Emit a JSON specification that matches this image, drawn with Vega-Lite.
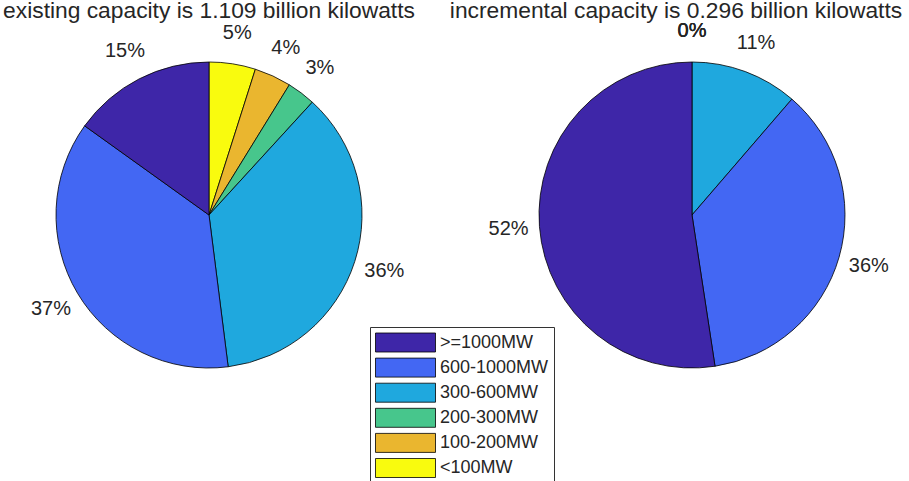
{
  "$schema": "https://vega.github.io/schema/vega-lite/v6.json",
  "padding": 0,
  "background": "white",
  "config": {"view": {"stroke": null}},
  "bounds": "flush",
  "spacing": 65,
  "datasets": {
    "d": [
      {"chart": "existing", "cat": "<100MW", "v": 0.049, "k": 1},
      {"chart": "existing", "cat": "100-200MW", "v": 0.039, "k": 2},
      {"chart": "existing", "cat": "200-300MW", "v": 0.030, "k": 3},
      {"chart": "existing", "cat": "300-600MW", "v": 0.362, "k": 4},
      {"chart": "existing", "cat": "600-1000MW", "v": 0.369, "k": 5},
      {"chart": "existing", "cat": ">=1000MW", "v": 0.151, "k": 6},
      {"chart": "incremental", "cat": "<100MW", "v": 0, "k": 1},
      {"chart": "incremental", "cat": "100-200MW", "v": 0, "k": 2},
      {"chart": "incremental", "cat": "200-300MW", "v": 0, "k": 3},
      {"chart": "incremental", "cat": "300-600MW", "v": 0.113, "k": 4},
      {"chart": "incremental", "cat": "600-1000MW", "v": 0.362, "k": 5},
      {"chart": "incremental", "cat": ">=1000MW", "v": 0.523, "k": 6}
    ]
  },
  "hconcat": [
    {
      "width": 418,
      "height": 400,
      "title": {"text": "existing capacity is 1.109 billion kilowatts", "font": "Liberation Sans", "fontSize": 22.8, "fontWeight": "normal", "color": "#262626", "offset": -8, "anchor": "middle"},
      "data": {"name": "d"},
      "transform": [{"filter": "datum.chart === 'existing'"}],
      "encoding": {
        "theta": {"field": "v", "type": "quantitative", "stack": true},
        "order": {"field": "k", "type": "quantitative"},
        "color": {
          "field": "cat", "type": "nominal",
          "scale": {"domain": [">=1000MW", "600-1000MW", "300-600MW", "200-300MW", "100-200MW", "<100MW"], "range": ["#3E26A8", "#4367F3", "#1FA8DE", "#47C68C", "#EAB62F", "#F9FB0E"]},
          "legend": {"title": null, "orient": "none", "legendX": 370, "legendY": 312, "direction": "vertical", "symbolType": "M-1,-0.95H5V0.95H-1Z", "symbolSize": 400, "symbolStrokeColor": "black", "symbolStrokeWidth": 0.8, "symbolOpacity": 1, "labelFont": "Liberation Sans", "labelFontSize": 18, "labelColor": "#262626", "labelOffset": 44, "rowPadding": 2.1, "padding": 5, "strokeColor": "#333333", "fillColor": "white", "labelLimit": 300}
        }
      },
      "layer": [
        {"mark": {"type": "arc", "outerRadius": 153, "stroke": "black", "strokeWidth": 0.8}},
        {"mark": {"type": "text", "radius": 184, "font": "Liberation Sans", "fontSize": 20, "color": "#262626"},
         "encoding": {"text": {"field": "v", "type": "quantitative", "format": ".0%"}, "color": {"value": "#262626"}}}
      ]
    },
    {
      "width": 418,
      "height": 400,
      "title": {"text": "incremental capacity is 0.296 billion kilowatts", "font": "Liberation Sans", "fontSize": 22.8, "fontWeight": "normal", "color": "#262626", "offset": -8, "anchor": "middle", "dx": -16},
      "data": {"name": "d"},
      "transform": [{"filter": "datum.chart === 'incremental'"}],
      "encoding": {
        "theta": {"field": "v", "type": "quantitative", "stack": true},
        "order": {"field": "k", "type": "quantitative"},
        "color": {
          "field": "cat", "type": "nominal",
          "scale": {"domain": [">=1000MW", "600-1000MW", "300-600MW", "200-300MW", "100-200MW", "<100MW"], "range": ["#3E26A8", "#4367F3", "#1FA8DE", "#47C68C", "#EAB62F", "#F9FB0E"]},
          "legend": {"title": null, "orient": "none", "legendX": 370, "legendY": 312, "direction": "vertical", "symbolType": "M-1,-0.95H5V0.95H-1Z", "symbolSize": 400, "symbolStrokeColor": "black", "symbolStrokeWidth": 0.8, "symbolOpacity": 1, "labelFont": "Liberation Sans", "labelFontSize": 18, "labelColor": "#262626", "labelOffset": 44, "rowPadding": 2.1, "padding": 5, "strokeColor": "#333333", "fillColor": "white", "labelLimit": 300}
        }
      },
      "layer": [
        {"mark": {"type": "arc", "outerRadius": 153, "stroke": "black", "strokeWidth": 0.8}},
        {"mark": {"type": "text", "radius": 184, "font": "Liberation Sans", "fontSize": 20, "color": "#262626"},
         "encoding": {"text": {"field": "v", "type": "quantitative", "format": ".0%"}, "color": {"value": "#262626"}}}
      ]
    }
  ]
}
